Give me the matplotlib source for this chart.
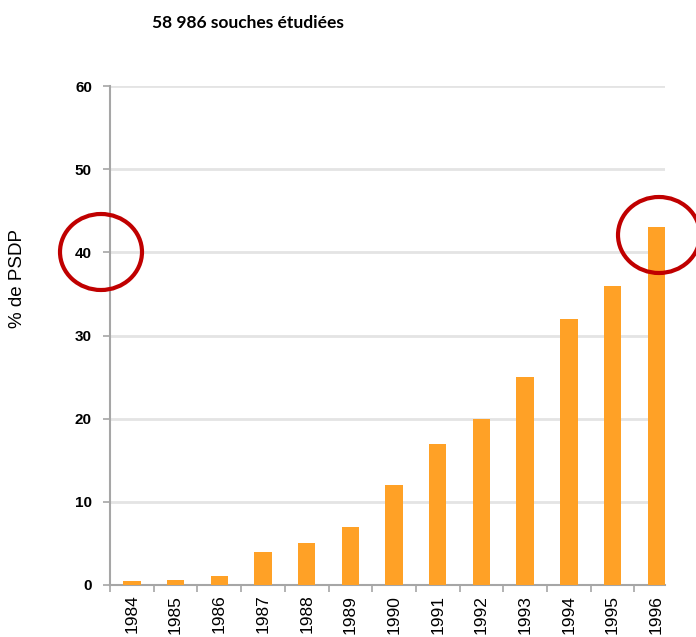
import matplotlib.pyplot as plt
from matplotlib.patches import Ellipse

years = ['1984', '1985', '1986', '1987', '1988', '1989', '1990',
         '1991', '1992', '1993', '1994', '1995', '1996']
psdp = [0.5, 0.6, 1.1, 4, 5, 7, 12, 17, 20, 25, 32, 36, 43]
y_ticks = [0, 10, 20, 30, 40, 50, 60]

fig = plt.figure(figsize=(6.96, 6.37), dpi=100)
ax = fig.add_axes([110 / 696, 52 / 637, 555 / 696, 499 / 637])

x = range(len(years))
ax.bar(x, psdp, width=0.4, color='#FFA126', zorder=3)

ax.set_ylim(0, 60)
ax.set_xlim(-0.5, len(years) - 1 + 0.2)
ax.set_yticks(y_ticks)
ax.set_yticklabels([str(t) for t in y_ticks], fontweight='bold',
                   fontsize=11, family='Liberation Sans')
ax.yaxis.grid(True, color='#E4E4E4', linewidth=2, zorder=0)

ax.set_xticks(list(x))
ax.set_xticklabels(years, rotation=90, fontsize=12.5, family='Liberation Sans')
ax.set_xticks([i - 0.5 for i in range(len(years))], minor=True)
ax.tick_params(axis='x', which='major', length=0, pad=7)
ax.tick_params(axis='x', which='minor', length=5, width=1.2, color='#A6A6A6')
ax.tick_params(axis='y', length=5, width=1.2, color='#A6A6A6', pad=8)

for side in ('top', 'right'):
    ax.spines[side].set_visible(False)
for side in ('left', 'bottom'):
    ax.spines[side].set_color('#A6A6A6')
    ax.spines[side].set_linewidth(1.5)

fig.text(18 / 696, 1 - 279 / 637, '% de PSDP', rotation=90, ha='center',
         va='center', fontsize=13.5, family='Liberation Sans')
fig.text(248 / 696, 1 - 23 / 637, '58 986 souches étudiées', ha='center',
         va='center', fontsize=12.5, fontweight='bold', family='Lato')

# red circles around the 40 % tick and the 1996 bar
for cx, cy in [(101, 252), (659, 235)]:
    fig.add_artist(Ellipse((cx / 696, 1 - cy / 637), 82 / 696, 76 / 637,
                           transform=fig.transFigure, fill=False,
                           edgecolor='#C00000', linewidth=3, clip_on=False))

fig.savefig('out.png', dpi=100)
